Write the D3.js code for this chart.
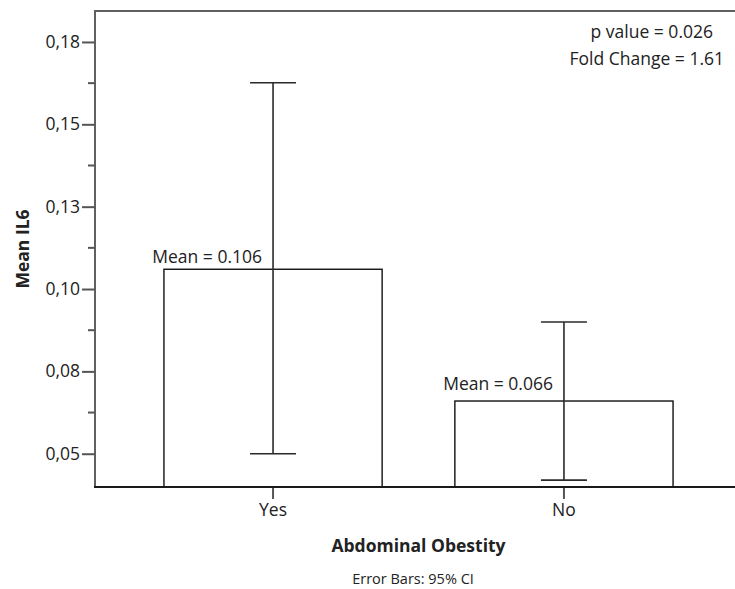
<!DOCTYPE html>
<html>
<head>
<meta charset="utf-8">
<script src="https://cdn.jsdelivr.net/npm/d3@7"></script>
<style>
  html, body { margin: 0; padding: 0; background: #fff; overflow: hidden; }
  svg { display: block; }
  text { font-family: "Open Sans", "DejaVu Sans", sans-serif; fill: #222; }
</style>
</head>
<body>
<svg id="chart" width="735" height="589"></svg>
<script>
// Mean IL6 by abdominal obesity group, with 95% CI error bars
const categories = ["Yes", "No"];
const means = [0.106, 0.066];
const ciLower = [0.050, 0.042];
const ciUpper = [0.1626, 0.090];
const yTickValues = [0.05, 0.075, 0.10, 0.125, 0.15, 0.175];
const yTickLabels = ["0,05", "0,08", "0,10", "0,13", "0,15", "0,18"];
const yMinorTicks = [0.0625, 0.0875, 0.1125, 0.1375, 0.1625];
const annotations = ["p value = 0.026", "Fold Change = 1.61"];

const svg = d3.select("#chart");
const W = 735, H = 589;
const plot = { left: 95, right: 742, top: 11, bottom: 487 };
const FONT = 17.5;

const x = d3.scaleBand()
  .domain(categories)
  .range([plot.left, plot.right])
  .paddingInner(0.25)
  .paddingOuter(0.237);

const y = d3.scaleLinear()
  .domain([0.0399, 0.1844])
  .range([plot.bottom, plot.top]);

const g = svg.append("g");

// Plot frame (left and top lines; right side runs past the page edge)
g.append("path")
  .attr("d", `M${plot.left},${plot.bottom} V${plot.top} H${W + 5}`)
  .attr("fill", "none")
  .attr("stroke", "#606060")
  .attr("stroke-width", 2);

// Bars
g.selectAll("rect.bar")
  .data(categories)
  .join("rect")
  .attr("class", "bar")
  .attr("x", d => x(d))
  .attr("width", x.bandwidth())
  .attr("y", (d, i) => y(means[i]))
  .attr("height", (d, i) => plot.bottom - y(means[i]))
  .attr("fill", "#fff")
  .attr("stroke", "#111")
  .attr("stroke-width", 1.4);

// Error bars
const capHalf = 23;
const eb = g.selectAll("g.eb")
  .data(categories)
  .join("g")
  .attr("class", "eb")
  .attr("transform", d => `translate(${x(d) + x.bandwidth() / 2},0)`)
  .attr("stroke", "#2a2a2a")
  .attr("stroke-width", 1.6);
eb.append("line")
  .attr("y1", (d, i) => y(ciUpper[i]))
  .attr("y2", (d, i) => y(ciLower[i]));
eb.append("line")
  .attr("x1", -capHalf).attr("x2", capHalf)
  .attr("y1", (d, i) => y(ciUpper[i]))
  .attr("y2", (d, i) => y(ciUpper[i]));
eb.append("line")
  .attr("x1", -capHalf).attr("x2", capHalf)
  .attr("y1", (d, i) => y(ciLower[i]))
  .attr("y2", (d, i) => y(ciLower[i]));

// Mean labels above each bar
const labelGap = [6.5, 11];
g.selectAll("text.mean")
  .data(categories)
  .join("text")
  .attr("class", "mean")
  .attr("x", d => x(d) + x.bandwidth() / 2 - 11)
  .attr("y", (d, i) => y(means[i]) - labelGap[i])
  .attr("text-anchor", "end")
  .attr("font-size", FONT)
  .text((d, i) => "Mean = " + means[i].toFixed(3));

// Y axis
const yAxis = d3.axisLeft(y)
  .tickValues(yTickValues)
  .tickFormat((d, i) => yTickLabels[i])
  .tickSize(13)
  .tickPadding(2);
const ya = svg.append("g")
  .attr("transform", `translate(${plot.left},0)`)
  .call(yAxis);
ya.select(".domain").remove();
ya.selectAll(".tick line").attr("stroke", "#555").attr("stroke-width", 2);
ya.selectAll(".tick text")
  .attr("font-size", FONT)
  .attr("font-family", "Open Sans, DejaVu Sans, sans-serif")
  .attr("fill", "#222");

// Minor y ticks
svg.append("g")
  .selectAll("line")
  .data(yMinorTicks)
  .join("line")
  .attr("x1", plot.left - 7).attr("x2", plot.left)
  .attr("y1", d => y(d)).attr("y2", d => y(d))
  .attr("stroke", "#555").attr("stroke-width", 2);

// X axis
const xAxis = d3.axisBottom(x).tickSize(12).tickPadding(5);
const xa = svg.append("g")
  .attr("transform", `translate(0,${plot.bottom})`)
  .call(xAxis);
xa.select(".domain").remove();
xa.append("line")
  .attr("x1", plot.left - 1).attr("x2", W + 5)
  .attr("stroke", "#1a1a1a").attr("stroke-width", 2);
xa.selectAll(".tick line").attr("stroke", "#555").attr("stroke-width", 2);
xa.selectAll(".tick text")
  .attr("font-size", FONT)
  .attr("font-family", "Open Sans, DejaVu Sans, sans-serif")
  .attr("fill", "#222");

// Axis titles
svg.append("text")
  .attr("transform", `translate(29,${(plot.top + plot.bottom) / 2}) rotate(-90)`)
  .attr("text-anchor", "middle")
  .attr("font-size", 17.5)
  .attr("font-weight", "bold")
  .text("Mean IL6");

svg.append("text")
  .attr("x", (plot.left + plot.right) / 2)
  .attr("y", 552)
  .attr("text-anchor", "middle")
  .attr("font-size", 17.5)
  .attr("font-weight", "bold")
  .text("Abdominal Obestity");

svg.append("text")
  .attr("x", 413)
  .attr("y", 584)
  .attr("text-anchor", "middle")
  .attr("font-size", 14.5)
  .text("Error Bars: 95% CI");

// Test statistics in the top-right corner
svg.append("g")
  .selectAll("text")
  .data(annotations)
  .join("text")
  .attr("x", (d, i) => i === 0 ? 713 : 724)
  .attr("y", (d, i) => 38 + i * 27)
  .attr("text-anchor", "end")
  .attr("font-size", FONT)
  .text(d => d);
</script>
</body>
</html>
